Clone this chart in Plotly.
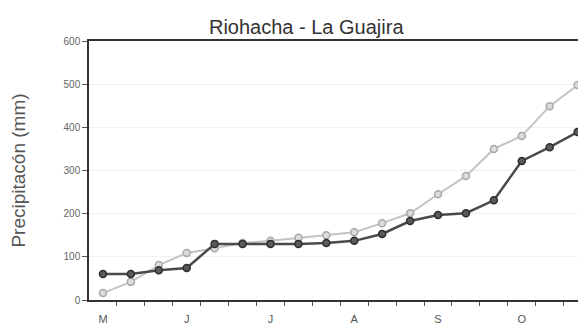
import plotly.graph_objects as go

# dekads (3 per month), May - October
months = ["M", "J", "J", "A", "S", "O"]
dekads = [f"{m}{d}" for m in range(6) for d in range(1, 4)]

# precipitation series (mm)
dark = [60, 60, 69, 74, 130, 130, 130, 130, 132, 137, 153, 183, 197, 201, 231, 322, 354, 389]
light = [16, 42, 81, 109, 120, 132, 137, 144, 150, 157, 178, 201, 245, 287, 350, 380, 449, 498]

yticks = [0, 100, 200, 300, 400, 500, 600]

x = list(range(len(dekads)))

fig = go.Figure()

fig.add_trace(go.Scatter(
    x=x, y=light, mode="lines+markers",
    line=dict(color="#c4c4c4", width=2),
    marker=dict(size=7, color="#dcdcdc", line=dict(color="#a8a8a8", width=1.5)),
    showlegend=False, cliponaxis=False,
))
fig.add_trace(go.Scatter(
    x=x, y=dark, mode="lines+markers",
    line=dict(color="#4a4a4a", width=2.5),
    marker=dict(size=7, color="#5a5a5a", line=dict(color="#2e2e2e", width=1.5)),
    showlegend=False, cliponaxis=False,
))

# page body adds an 8px margin, so the figure is 8px smaller than the window
fig.update_layout(
    width=578, height=318,
    margin=dict(l=81, r=0, t=33, b=26, autoexpand=False),
    paper_bgcolor="white", plot_bgcolor="white",
    font=dict(family="Liberation Sans, Arial", color="#555"),
    title=dict(
        text="Riohacha - La Guajira",
        x=0.516, xanchor="center", y=0.94, yanchor="middle",
        font=dict(size=20, color="#333"),
    ),
    xaxis=dict(
        range=[-0.5, 17.3],
        tickvals=[0, 3, 6, 9, 12, 15], ticktext=months,
        ticks="outside", ticklen=8, tickcolor="rgba(0,0,0,0)",
        tickfont=dict(size=11, color="#555"),
        showline=True, linecolor="#333", linewidth=1.5, mirror=True,
        showgrid=False, zeroline=False,
        minor=dict(tickvals=[i + 0.5 for i in x[:-1]], ticks="outside",
                   ticklen=4, tickcolor="#555", showgrid=False),
    ),
    yaxis=dict(
        range=[0, 600], tickvals=yticks,
        ticks="outside", ticklen=5, tickcolor="#555",
        tickfont=dict(size=10, color="#666"),
        showline=True, linecolor="#333", linewidth=1.5,
        showgrid=True, gridcolor="#f0f0f0", gridwidth=1,
        zeroline=False, automargin=False,
        title=dict(text="Precipitacón (mm)", font=dict(size=19, color="#555"), standoff=33),
    ),
)

fig.write_html("out.html")
